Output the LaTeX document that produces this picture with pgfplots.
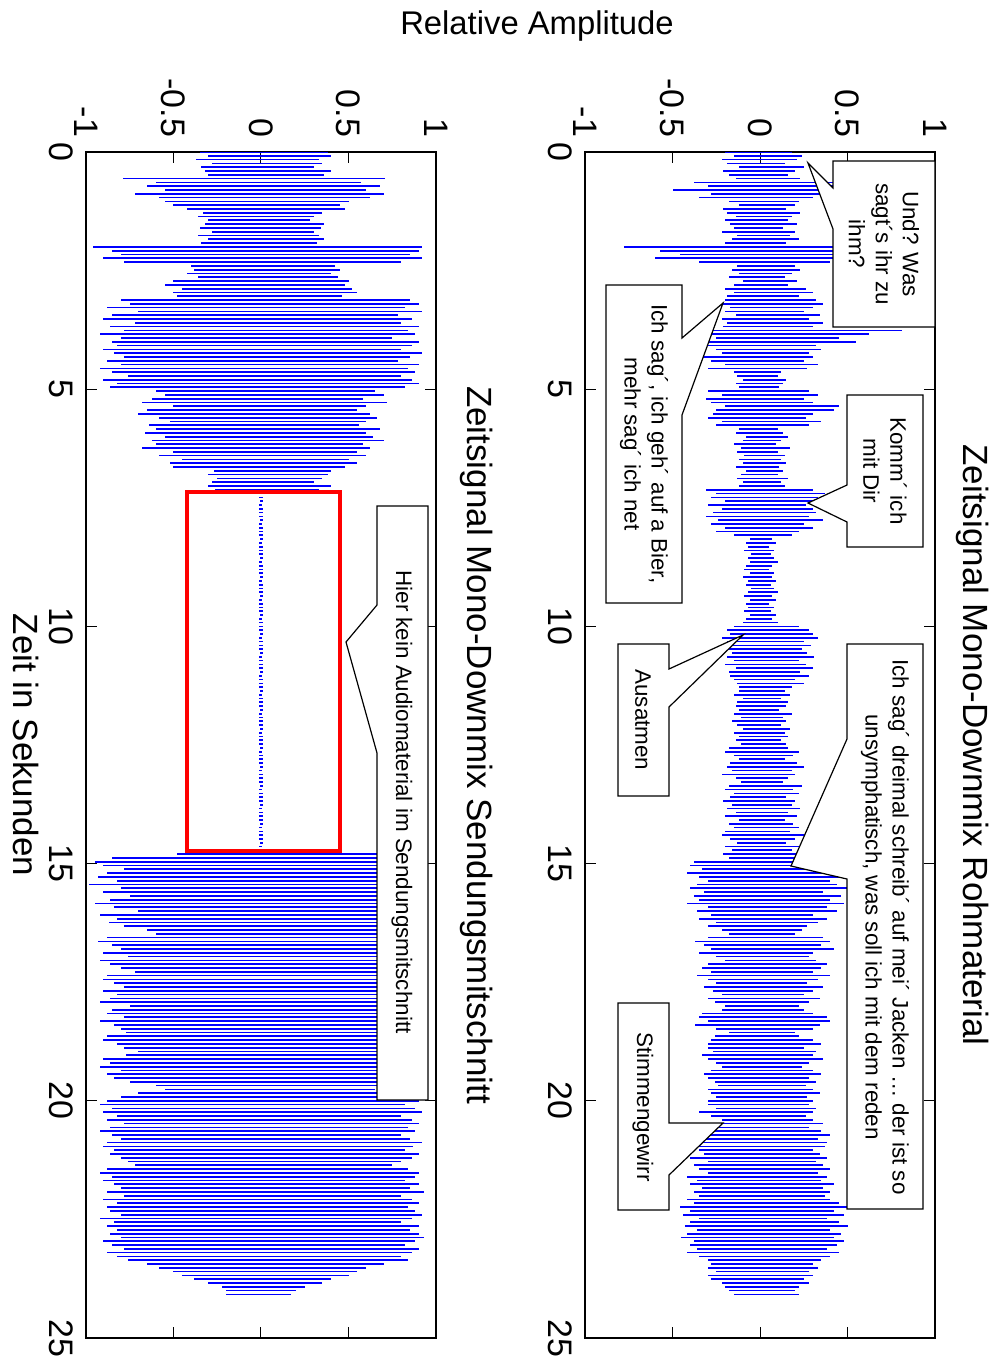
\documentclass[border=0pt]{standalone}
\usepackage{fontspec}
\setmainfont{Liberation Sans}
\usepackage{pgfplots}
\usepackage{pgfplotstable}
\pgfplotsset{compat=1.18}

% Rohmaterial: per stroke (one every 0.08 s) the positive and negative excursion
\pgfplotstableread{
p n
0.18 -0.2
0.24 -0.15
0.21 -0.22
0.14 -0.19
0.25 -0.12
0.2 -0.21
0.16 -0.18
0.23 -0.14
0.42 -0.38
0.45 -0.3
0.35 -0.5
0.4 -0.28
0.3 -0.35
0.22 -0.18
0.2 -0.12
0.15 -0.21
0.23 -0.19
0.18 -0.14
0.16 -0.2
0.21 -0.17
0.13 -0.15
0.2 -0.22
0.17 -0.13
0.22 -0.16
0.15 -0.2
0.55 -0.78
0.5 -0.57
0.48 -0.46
0.52 -0.6
0.4 -0.35
0.2 -0.13
0.23 -0.16
0.18 -0.12
0.14 -0.18
0.21 -0.1
0.16 -0.15
0.26 -0.2
0.3 -0.15
0.22 -0.19
0.32 -0.2
0.36 -0.22
0.3 -0.17
0.25 -0.2
0.34 -0.14
0.28 -0.22
0.36 -0.19
0.3 -0.21
0.81 -0.28
0.62 -0.3
0.45 -0.25
0.55 -0.32
0.32 -0.3
0.35 -0.25
0.28 -0.22
0.3 -0.33
0.25 -0.28
0.33 -0.2
0.27 -0.3
0.12 -0.15
0.1 -0.13
0.15 -0.1
0.13 -0.14
0.11 -0.12
0.28 -0.3
0.33 -0.22
0.25 -0.31
0.3 -0.28
0.45 -0.2
0.42 -0.25
0.3 -0.27
0.26 -0.3
0.35 -0.22
0.28 -0.25
0.1 -0.12
0.13 -0.14
0.16 -0.08
0.12 -0.1
0.09 -0.15
0.17 -0.11
0.1 -0.13
0.14 -0.09
0.12 -0.12
0.15 -0.1
0.11 -0.14
0.13 -0.08
0.1 -0.11
0.16 -0.13
0.12 -0.1
0.14 -0.12
0.3 -0.31
0.37 -0.25
0.33 -0.28
0.35 -0.2
0.26 -0.3
0.3 -0.22
0.32 -0.27
0.28 -0.31
0.36 -0.24
0.25 -0.28
0.3 -0.2
0.22 -0.25
0.18 -0.15
0.07 -0.06
0.09 -0.08
0.05 -0.07
0.08 -0.09
0.06 -0.05
0.08 -0.07
0.1 -0.06
0.07 -0.08
0.05 -0.09
0.08 -0.06
0.07 -0.1
0.09 -0.07
0.06 -0.08
0.08 -0.05
0.1 -0.07
0.07 -0.09
0.09 -0.06
0.05 -0.08
0.08 -0.07
0.06 -0.09
0.09 -0.06
0.07 -0.08
0.1 -0.1
0.22 -0.15
0.28 -0.19
0.3 -0.17
0.33 -0.22
0.25 -0.19
0.29 -0.18
0.24 -0.2
0.27 -0.16
0.31 -0.19
0.22 -0.15
0.26 -0.2
0.3 -0.14
0.23 -0.18
0.28 -0.17
0.2 -0.15
0.25 -0.13
0.18 -0.12
0.14 -0.12
0.17 -0.15
0.12 -0.1
0.16 -0.13
0.15 -0.14
0.11 -0.12
0.18 -0.15
0.13 -0.11
0.15 -0.16
0.12 -0.13
0.17 -0.1
0.14 -0.15
0.16 -0.12
0.12 -0.14
0.15 -0.11
0.16 -0.18
0.22 -0.2
0.19 -0.15
0.14 -0.12
0.21 -0.17
0.25 -0.19
0.18 -0.16
0.2 -0.22
0.16 -0.14
0.13 -0.11
0.24 -0.18
0.19 -0.2
0.22 -0.15
0.15 -0.17
0.2 -0.21
0.18 -0.16
0.23 -0.19
0.16 -0.14
0.21 -0.2
0.14 -0.12
0.19 -0.18
0.22 -0.15
0.17 -0.2
0.25 -0.22
0.2 -0.17
0.15 -0.13
0.22 -0.2
0.18 -0.16
0.24 -0.21
0.2 -0.18
0.45 -0.38
0.5 -0.4
0.42 -0.33
0.38 -0.42
0.48 -0.35
0.4 -0.3
0.44 -0.36
0.5 -0.4
0.36 -0.32
0.46 -0.38
0.4 -0.35
0.48 -0.42
0.38 -0.3
0.44 -0.36
0.3 -0.28
0.38 -0.35
0.33 -0.25
0.27 -0.3
0.24 -0.22
0.2 -0.18
0.36 -0.3
0.4 -0.37
0.35 -0.32
0.42 -0.28
0.3 -0.35
0.28 -0.25
0.32 -0.2
0.38 -0.3
0.35 -0.33
0.3 -0.28
0.4 -0.36
0.33 -0.3
0.27 -0.25
0.36 -0.32
0.3 -0.27
0.25 -0.22
0.34 -0.3
0.28 -0.26
0.22 -0.2
0.25 -0.22
0.3 -0.33
0.38 -0.35
0.4 -0.3
0.34 -0.37
0.3 -0.25
0.2 -0.18
0.22 -0.26
0.3 -0.28
0.35 -0.3
0.25 -0.3
0.32 -0.27
0.3 -0.33
0.36 -0.3
0.28 -0.25
0.24 -0.22
0.3 -0.28
0.35 -0.32
0.28 -0.3
0.32 -0.26
0.26 -0.24
0.3 -0.3
0.34 -0.28
0.27 -0.25
0.3 -0.3
0.28 -0.3
0.32 -0.25
0.3 -0.35
0.26 -0.28
0.3 -0.22
0.36 -0.33
0.28 -0.3
0.35 -0.38
0.4 -0.42
0.33 -0.36
0.38 -0.4
0.37 -0.43
0.3 -0.35
0.34 -0.32
0.38 -0.4
0.32 -0.3
0.36 -0.38
0.4 -0.35
0.33 -0.3
0.38 -0.42
0.35 -0.36
0.42 -0.4
0.36 -0.33
0.4 -0.38
0.37 -0.35
0.4 -0.42
0.45 -0.38
0.5 -0.46
0.42 -0.4
0.48 -0.44
0.38 -0.35
0.45 -0.4
0.5 -0.43
0.4 -0.36
0.46 -0.42
0.42 -0.45
0.48 -0.38
0.44 -0.4
0.38 -0.36
0.45 -0.42
0.4 -0.35
0.35 -0.3
0.3 -0.28
0.33 -0.3
0.28 -0.25
0.3 -0.3
0.25 -0.28
0.28 -0.22
0.22 -0.2
0.2 -0.18
0.22 -0.15
}\roh

% Sendungsmitschnitt: per stroke (one every 0.08 s) the positive and negative excursion
\pgfplotstableread{
p n
0.38 -0.35
0.4 -0.3
0.33 -0.37
0.35 -0.28
0.3 -0.34
0.4 -0.32
0.36 -0.3
0.71 -0.79
0.57 -0.6
0.68 -0.65
0.6 -0.55
0.7 -0.72
0.62 -0.58
0.5 -0.55
0.45 -0.5
0.48 -0.42
0.35 -0.33
0.3 -0.36
0.28 -0.3
0.36 -0.32
0.34 -0.35
0.3 -0.28
0.33 -0.36
0.36 -0.3
0.32 -0.34
0.92 -0.96
0.9 -0.85
0.85 -0.8
0.92 -0.9
0.8 -0.78
0.42 -0.4
0.45 -0.38
0.4 -0.42
0.44 -0.36
0.5 -0.5
0.48 -0.55
0.52 -0.45
0.55 -0.5
0.46 -0.48
0.85 -0.8
0.9 -0.75
0.82 -0.88
0.92 -0.7
0.78 -0.85
0.86 -0.9
0.8 -0.72
0.9 -0.86
0.84 -0.78
0.88 -0.92
0.75 -0.8
0.9 -0.85
0.86 -0.82
0.8 -0.9
0.92 -0.84
0.85 -0.78
0.78 -0.88
0.9 -0.8
0.84 -0.92
0.88 -0.85
0.8 -0.76
0.86 -0.9
0.9 -0.82
0.82 -0.86
0.65 -0.6
0.7 -0.55
0.58 -0.62
0.72 -0.68
0.6 -0.5
0.55 -0.65
0.62 -0.7
0.66 -0.58
0.6 -0.52
0.56 -0.64
0.68 -0.6
0.6 -0.66
0.64 -0.55
0.7 -0.62
0.58 -0.6
0.62 -0.68
0.55 -0.5
0.6 -0.58
0.5 -0.45
0.55 -0.52
0.48 -0.5
0.4 -0.27
0.38 -0.3
0.35 -0.25
0.3 -0.28
0.4 -0.3
0.33 -0.26
0.011 -0.009
0.009 -0.012
0.012 -0.008
0.008 -0.011
0.01 -0.01
0.011 -0.009
0.009 -0.012
0.012 -0.008
0.008 -0.011
0.01 -0.01
0.011 -0.009
0.009 -0.012
0.012 -0.008
0.008 -0.011
0.01 -0.01
0.011 -0.009
0.009 -0.012
0.012 -0.008
0.008 -0.011
0.01 -0.01
0.011 -0.009
0.009 -0.012
0.012 -0.008
0.008 -0.011
0.01 -0.01
0.011 -0.009
0.009 -0.012
0.012 -0.008
0.008 -0.011
0.01 -0.01
0.011 -0.009
0.009 -0.012
0.012 -0.008
0.008 -0.011
0.01 -0.01
0.011 -0.009
0.009 -0.012
0.012 -0.008
0.008 -0.011
0.01 -0.01
0.011 -0.009
0.009 -0.012
0.012 -0.008
0.008 -0.011
0.01 -0.01
0.011 -0.009
0.009 -0.012
0.012 -0.008
0.008 -0.011
0.01 -0.01
0.011 -0.009
0.009 -0.012
0.012 -0.008
0.008 -0.011
0.01 -0.01
0.011 -0.009
0.009 -0.012
0.012 -0.008
0.008 -0.011
0.01 -0.01
0.011 -0.009
0.009 -0.012
0.012 -0.008
0.008 -0.011
0.01 -0.01
0.011 -0.009
0.009 -0.012
0.012 -0.008
0.008 -0.011
0.01 -0.01
0.011 -0.009
0.009 -0.012
0.012 -0.008
0.008 -0.011
0.01 -0.01
0.011 -0.009
0.009 -0.012
0.012 -0.008
0.008 -0.011
0.01 -0.01
0.011 -0.009
0.009 -0.012
0.012 -0.008
0.008 -0.011
0.01 -0.01
0.011 -0.009
0.009 -0.012
0.012 -0.008
0.008 -0.011
0.01 -0.01
0.011 -0.009
0.009 -0.012
0.012 -0.008
0.008 -0.011
0.01 -0.01
0.9 -0.48
0.88 -0.85
0.82 -0.95
0.86 -0.9
0.92 -0.78
0.8 -0.88
0.85 -0.93
0.9 -0.82
0.87 -0.98
0.83 -0.8
0.88 -0.9
0.92 -0.75
0.8 -0.86
0.9 -0.95
0.86 -0.84
0.78 -0.7
0.88 -0.92
0.9 -0.82
0.85 -0.87
0.8 -0.78
0.7 -0.65
0.68 -0.6
0.9 -0.88
0.86 -0.93
0.92 -0.85
0.88 -0.8
0.83 -0.9
0.8 -0.76
0.9 -0.92
0.84 -0.86
0.76 -0.8
0.8 -0.72
0.85 -0.88
0.92 -0.9
0.8 -0.84
0.86 -0.78
0.88 -0.9
0.9 -0.82
0.84 -0.86
0.87 -0.92
0.8 -0.75
0.9 -0.85
0.82 -0.88
0.86 -0.78
0.88 -0.92
0.9 -0.84
0.93 -0.8
0.85 -0.77
0.8 -0.88
0.86 -0.9
0.9 -0.82
0.92 -0.78
0.8 -0.7
0.93 -0.77
0.85 -0.9
0.88 -0.86
0.8 -0.92
0.84 -0.8
0.9 -0.88
0.86 -0.84
0.78 -0.75
0.7 -0.6
0.65 -0.55
0.72 -0.7
0.85 -0.8
0.9 -0.88
0.82 -0.92
0.88 -0.85
0.92 -0.9
0.8 -0.82
0.86 -0.88
0.9 -0.78
0.84 -0.86
0.88 -0.92
0.8 -0.85
0.85 -0.8
0.92 -0.88
0.87 -0.9
0.82 -0.84
0.9 -0.86
0.86 -0.8
0.8 -0.76
0.75 -0.72
0.84 -0.88
0.9 -0.92
0.88 -0.85
0.82 -0.9
0.9 -0.84
0.85 -0.8
0.93 -0.88
0.8 -0.78
0.86 -0.9
0.9 -0.82
0.84 -0.88
0.88 -0.86
0.92 -0.8
0.86 -0.92
0.8 -0.84
0.9 -0.88
0.85 -0.82
0.9 -0.86
0.93 -0.8
0.88 -0.9
0.82 -0.85
0.9 -0.78
0.86 -0.88
0.8 -0.82
0.84 -0.76
0.7 -0.65
0.6 -0.58
0.55 -0.5
0.5 -0.45
0.4 -0.38
0.35 -0.3
0.25 -0.22
0.2 -0.2
0.17 -0.2
}\send

\newcommand\tickfont{\fontsize{17}{20}\selectfont}
\newcommand\titlefont{\fontsize{17.5}{21}\selectfont}
\newcommand\notefont{\fontsize{11.2}{13.5}\selectfont}

\pgfplotsset{
  wave/.style={
    scale only axis, width=175pt, height=593pt,
    xmin=-1, xmax=1, ymin=0, ymax=25, y dir=reverse,
    xtick={-1,-0.5,0,0.5,1}, ytick={0,5,10,15,20,25},
    xticklabel pos=upper,
    tick align=inside, major tick length=5.5pt,
    tick style={black, line width=0.5pt},
    axis line style={black, line width=0.6pt},
    /pgf/number format/assume math mode=true,
    ticklabel style={font=\tickfont},
    xticklabel style={rotate=-90, anchor=east},
    yticklabel style={rotate=-90, anchor=north},
    xticklabel shift=4pt, yticklabel shift=3pt,
  },
  strokes/.style={xcomb, draw=blue, color=blue, line width=0.85pt, mark=none},
}

\begin{document}
\begin{tikzpicture}
\useasboundingbox (0,0) rectangle (499pt,-681pt);

\begin{axis}[wave, at={(292.5pt,-76pt)}, anchor=north west]
\addplot[strokes] table[x=p, y expr=\coordindex*0.08] {\roh};
\addplot[strokes] table[x=n, y expr=\coordindex*0.08] {\roh};
\end{axis}

\begin{axis}[wave, at={(43pt,-76pt)}, anchor=north west]
\addplot[strokes] table[x=p, y expr=\coordindex*0.08] {\send};
\addplot[strokes] table[x=n, y expr=\coordindex*0.08] {\send};
\end{axis}

\begin{scope}[x=0.5pt, y=-0.5pt]
  % highlight of the missing audio
  \draw[red, line width=2pt] (187,492) rectangle (340,851);

  % callouts
  \tikzset{callout/.style={draw=black, fill=white, line width=0.6pt}}
  \path[callout] (833,161) -- (935,161) -- (935,327) -- (833,327) -- (833,229) -- (808,163) -- (833,188) -- cycle;
  \path[callout] (606,285) -- (682,285) -- (682,338) -- (723,303) -- (682,415) -- (682,603) -- (606,603) -- cycle;
  \path[callout] (847,395) -- (923,395) -- (923,547) -- (847,547) -- (847,522) -- (808,503) -- (847,485) -- cycle;
  \path[callout] (618,644) -- (669,644) -- (669,669) -- (743,635) -- (669,707) -- (669,796) -- (618,796) -- cycle;
  \path[callout] (847,644) -- (923,644) -- (923,1209) -- (847,1209) -- (847,879) -- (791,866) -- (847,739) -- cycle;
  \path[callout] (618,1003) -- (669,1003) -- (669,1123) -- (723,1123) -- (669,1175) -- (669,1210) -- (618,1210) -- cycle;
  \path[callout] (377,506) -- (428,506) -- (428,1100) -- (377,1100) -- (377,753) -- (346,642) -- (377,605) -- cycle;

  \tikzset{note/.style={rotate=-90, font=\notefont, align=center, inner sep=0pt}}
  \node[note] at (884,244) {Und? Was\\sagt´s ihr zu\\ihm?};
  \node[note] at (644,444) {Ich sag´, ich geh´ auf a Bier,\\mehr sag´ ich net};
  \node[note] at (885,471) {Komm´ ich\\mit Dir};
  \node[note] at (643,720) {Ausatmen};
  \node[note] at (885,927) {Ich sag´ dreimal schreib´ auf mei´ Jacken … der ist so\\unsymphatisch, was soll ich mit dem reden};
  \node[note] at (643,1107) {Stimmengewirr};
  \node[note] at (402,802) {Hier kein Audiomaterial im Sendungsmitschnitt};

  % titles and labels
  \node[rotate=-90, font=\titlefont, inner sep=0pt] at (973,745) {Zeitsignal Mono-Downmix Rohmaterial};
  \node[rotate=-90, font=\titlefont, inner sep=0pt] at (477,745) {Zeitsignal Mono-Downmix Sendungsmitschnitt};
  \node[rotate=-90, font=\titlefont, inner sep=0pt] at (26,745) {Zeit in Sekunden};
  \node[font=\fontsize{16.4}{20}\selectfont, inner sep=0pt] at (537,26) {Relative Amplitude};
\end{scope}
\end{tikzpicture}
\end{document}
